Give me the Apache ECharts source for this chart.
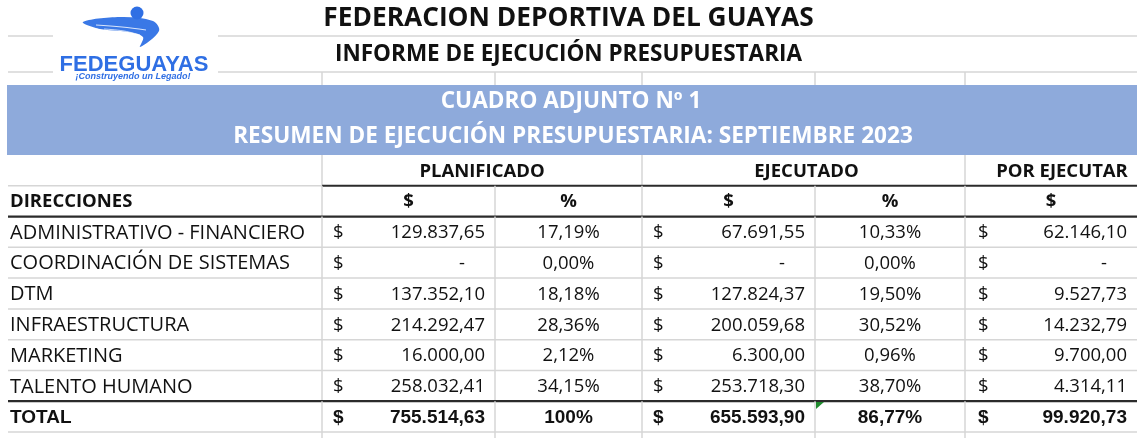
<!DOCTYPE html>
<html>
<head>
<meta charset="utf-8">
<script src="https://cdn.jsdelivr.net/npm/echarts@6/dist/echarts.min.js"></script>
<style>
  html, body { margin: 0; padding: 0; background: #ffffff; }
  #chart { width: 1137px; height: 438px; }
</style>
</head>
<body>
<div id="chart"></div>
<script>
// datos del cuadro
const direcciones = ['ADMINISTRATIVO - FINANCIERO', 'COORDINACIÓN DE SISTEMAS', 'DTM', 'INFRAESTRUCTURA', 'MARKETING', 'TALENTO HUMANO'];
const planificado = [129837.65, 0, 137352.10, 214292.47, 16000.00, 258032.41];
const pctPlanificado = [17.19, 0.00, 18.18, 28.36, 2.12, 34.15];
const ejecutado = [67691.55, 0, 127824.37, 200059.68, 6300.00, 253718.30];
const pctEjecutado = [10.33, 0.00, 19.50, 30.52, 0.96, 38.70];
const porEjecutar = [62146.10, 0, 9527.73, 14232.79, 9700.00, 4314.11];
const totales = [755514.63, 100, 655593.90, 86.77, 99920.73];
const encabezados = ['PLANIFICADO', 'EJECUTADO', 'POR EJECUTAR'];
const subEncabezados = ['DIRECCIONES', '$', '%', '$', '%', '$'];

// layout de columnas (bordes en px del eje x)
const colEdges = [8, 322, 495, 642, 815, 965, 1137];
const BODY_FONT = '"Open Sans", sans-serif';
const TOTAL_FONT = '"Liberation Sans", Arial, sans-serif';
const GRID = '#d6d6d6';
const DARK = '#2b2b2b';

const fmtMoney = (v) => {
  if (v === 0) return '-';
  const parts = v.toFixed(2).split('.');
  const ent = parts[0].replace(/\B(?=(\d{3})+(?!\d))/g, '.');
  return ent + ',' + parts[1];
};
const fmtPct = (v, total) => (total && Number.isInteger(v) ? v + '%' : v.toFixed(2).replace('.', ',') + '%');

// filas: 0 = encabezado, 1 = subencabezado, 2..7 = datos, 8 = total
const rowKeys = ['h1', 'h2'].concat(direcciones, ['TOTAL']);

const buildCells = (idx) => {
  const cells = [];
  if (idx === 0) {
    cells.push({ text: encabezados[0], x: (colEdges[1] + colEdges[3]) / 2, align: 'center', bold: true });
    cells.push({ text: encabezados[1], x: (colEdges[3] + colEdges[5]) / 2 + 3, align: 'center', bold: true });
    cells.push({ text: encabezados[2], x: 1062, align: 'center', bold: true });
    return cells;
  }
  if (idx === 1) {
    cells.push({ text: subEncabezados[0], x: 10, align: 'left', bold: true });
    for (let c = 1; c < 6; c++) {
      cells.push({ text: subEncabezados[c], x: (colEdges[c] + colEdges[c + 1]) / 2, align: 'center', bold: true });
    }
    return cells;
  }
  const isTotal = idx === rowKeys.length - 1;
  const vals = isTotal
    ? totales
    : [planificado, pctPlanificado, ejecutado, pctEjecutado, porEjecutar].map((a) => a[idx - 2]);
  cells.push({ text: isTotal ? 'TOTAL' : direcciones[idx - 2], x: 10, align: 'left', bold: isTotal, name: true });
  vals.forEach((v, k) => {
    const c = k + 1;
    if (k % 2 === 0) {
      cells.push({ text: '$', x: colEdges[c] + (c === 5 ? 13 : 11), align: 'left', bold: isTotal });
      cells.push({ text: fmtMoney(v), x: colEdges[c + 1] - (v === 0 ? 30 : 10), align: 'right', bold: isTotal });
    } else {
      cells.push({ text: fmtPct(v, isTotal), x: (colEdges[c] + colEdges[c + 1]) / 2, align: 'center', bold: isTotal });
    }
  });
  return cells;
};

const chart = echarts.init(document.getElementById('chart'));

const renderRow = (params, api) => {
  const idx = api.value(1);
  const center = api.coord([0, idx]);
  const h = api.size([0, 1])[1];
  const yc = center[1];
  const top = yc - h / 2;
  const bottom = yc + h / 2;
  const px = (v) => api.coord([v, idx])[0];
  const isTotal = idx === rowKeys.length - 1;
  const children = [];

  // separadores verticales
  const vcols = idx === 0 ? [1, 3, 5] : [1, 2, 3, 4, 5];
  vcols.forEach((c) => {
    children.push({
      type: 'line',
      shape: { x1: px(colEdges[c]), y1: top, x2: px(colEdges[c]), y2: isTotal ? bottom + 8 : bottom },
      style: { stroke: GRID, lineWidth: 1.5 },
    });
  });

  // borde inferior
  if (idx === 0) {
    children.push({ type: 'line', shape: { x1: px(colEdges[0]), y1: bottom, x2: px(colEdges[1]), y2: bottom }, style: { stroke: GRID, lineWidth: 1.5 } });
    children.push({ type: 'line', shape: { x1: px(colEdges[1]), y1: bottom, x2: px(colEdges[6]), y2: bottom }, style: { stroke: DARK, lineWidth: 2 } });
  } else if (idx === 1 || idx === rowKeys.length - 2) {
    children.push({ type: 'line', shape: { x1: px(colEdges[0]), y1: bottom, x2: px(colEdges[6]), y2: bottom }, style: { stroke: DARK, lineWidth: 2.2 } });
  } else {
    children.push({ type: 'line', shape: { x1: px(colEdges[0]), y1: bottom, x2: px(colEdges[6]), y2: bottom }, style: { stroke: GRID, lineWidth: 1.5 } });
  }

  buildCells(idx).forEach((cell) => {
    let font;
    if (isTotal) font = 'bold 19px ' + TOTAL_FONT;
    else if (cell.name) font = '20px ' + BODY_FONT;
    else font = (cell.bold ? 'bold ' : '') + '18.5px ' + BODY_FONT;
    children.push({
      type: 'text',
      style: {
        text: cell.text,
        x: px(cell.x),
        y: yc + 1,
        align: cell.align,
        verticalAlign: 'middle',
        font: font,
        fill: '#111111',
      },
    });
  });

  return { type: 'group', children: children };
};

const topLines = [];
[36, 72].forEach((y) => {
  topLines.push({ type: 'line', silent: true, shape: { x1: 8, y1: y, x2: 53, y2: y }, style: { stroke: GRID, lineWidth: 1.5 } });
  topLines.push({ type: 'line', silent: true, shape: { x1: 218, y1: y, x2: 1137, y2: y }, style: { stroke: GRID, lineWidth: 1.5 } });
});
[1, 2, 3, 4, 5].forEach((c) => {
  topLines.push({ type: 'line', silent: true, shape: { x1: colEdges[c], y1: 72, x2: colEdges[c], y2: 85 }, style: { stroke: GRID, lineWidth: 1.5 } });
});

const option = {
  backgroundColor: '#ffffff',
  animation: false,
  title: [
    {
      text: 'FEDERACION DEPORTIVA DEL GUAYAS',
      left: 'center',
      top: 3,
      padding: 0,
      textStyle: { fontFamily: BODY_FONT, fontWeight: 'bold', fontSize: 26.3, color: '#111111', lineHeight: 31 },
    },
    {
      text: 'INFORME DE EJECUCIÓN PRESUPUESTARIA',
      left: 'center',
      top: 42,
      padding: 0,
      textStyle: { fontFamily: BODY_FONT, fontWeight: 'bold', fontSize: 22.5, color: '#111111', lineHeight: 26 },
    },
  ],
  grid: { left: 0, right: 0, top: 155, bottom: 6, containLabel: false },
  xAxis: { type: 'value', min: 0, max: 1137, show: false },
  yAxis: { type: 'category', data: rowKeys, inverse: true, show: false },
  graphic: topLines.concat([
    // logo
    {
      type: 'polygon',
      silent: true,
      shape: { points: [[83, 22], [120, 17], [153, 21], [159, 31], [140, 47], [143, 37], [128, 32], [100, 29]], smooth: 0.35 },
      style: { fill: '#3a78e6' },
    },
    {
      type: 'polyline',
      silent: true,
      shape: { points: [[96, 25], [122, 27], [146, 30]], smooth: 0.4 },
      style: { stroke: '#ffffff', lineWidth: 1.2, fill: null, opacity: 0.8 },
    },
    {
      type: 'polyline',
      silent: true,
      shape: { points: [[104, 29], [124, 31], [140, 35]], smooth: 0.4 },
      style: { stroke: '#ffffff', lineWidth: 1, fill: null, opacity: 0.7 },
    },
    { type: 'circle', silent: true, shape: { cx: 137, cy: 13, r: 6.5 }, style: { fill: '#2f6fe4' } },
    {
      type: 'text',
      silent: true,
      style: { text: 'FEDEGUAYAS', x: 134, y: 65, align: 'center', verticalAlign: 'middle', font: 'bold 22px ' + TOTAL_FONT, fill: '#2f6fe4' },
    },
    {
      type: 'text',
      silent: true,
      style: { text: '¡Construyendo un Legado!', x: 133, y: 77, align: 'center', verticalAlign: 'middle', font: 'italic bold 9px ' + TOTAL_FONT, fill: '#2f6fe4' },
    },
    // franja azul
    { type: 'rect', silent: true, shape: { x: 7, y: 85, width: 1130, height: 70 }, style: { fill: '#8eaadb' } },
    {
      type: 'text',
      silent: true,
      style: { text: 'CUADRO ADJUNTO Nº 1', x: 571, y: 102, align: 'center', verticalAlign: 'middle', font: 'bold 22.6px ' + BODY_FONT, fill: '#ffffff' },
    },
    {
      type: 'text',
      silent: true,
      style: { text: 'RESUMEN DE EJECUCIÓN PRESUPUESTARIA: SEPTIEMBRE 2023', x: 573, y: 137, align: 'center', verticalAlign: 'middle', font: 'bold 22.6px ' + BODY_FONT, fill: '#ffffff' },
    },
    // indicador verde de Excel
    { type: 'polygon', silent: true, z: 100, shape: { points: [[816, 402], [824, 402], [816, 409]] }, style: { fill: '#1f8a2e' } },
  ]),
  series: [
    {
      type: 'custom',
      coordinateSystem: 'cartesian2d',
      renderItem: renderRow,
      encode: { x: 0, y: 1 },
      data: rowKeys.map((k, i) => [0, i]),
      silent: true,
    },
  ],
};

chart.setOption(option);
window.addEventListener('resize', () => chart.resize());
</script>
</body>
</html>
